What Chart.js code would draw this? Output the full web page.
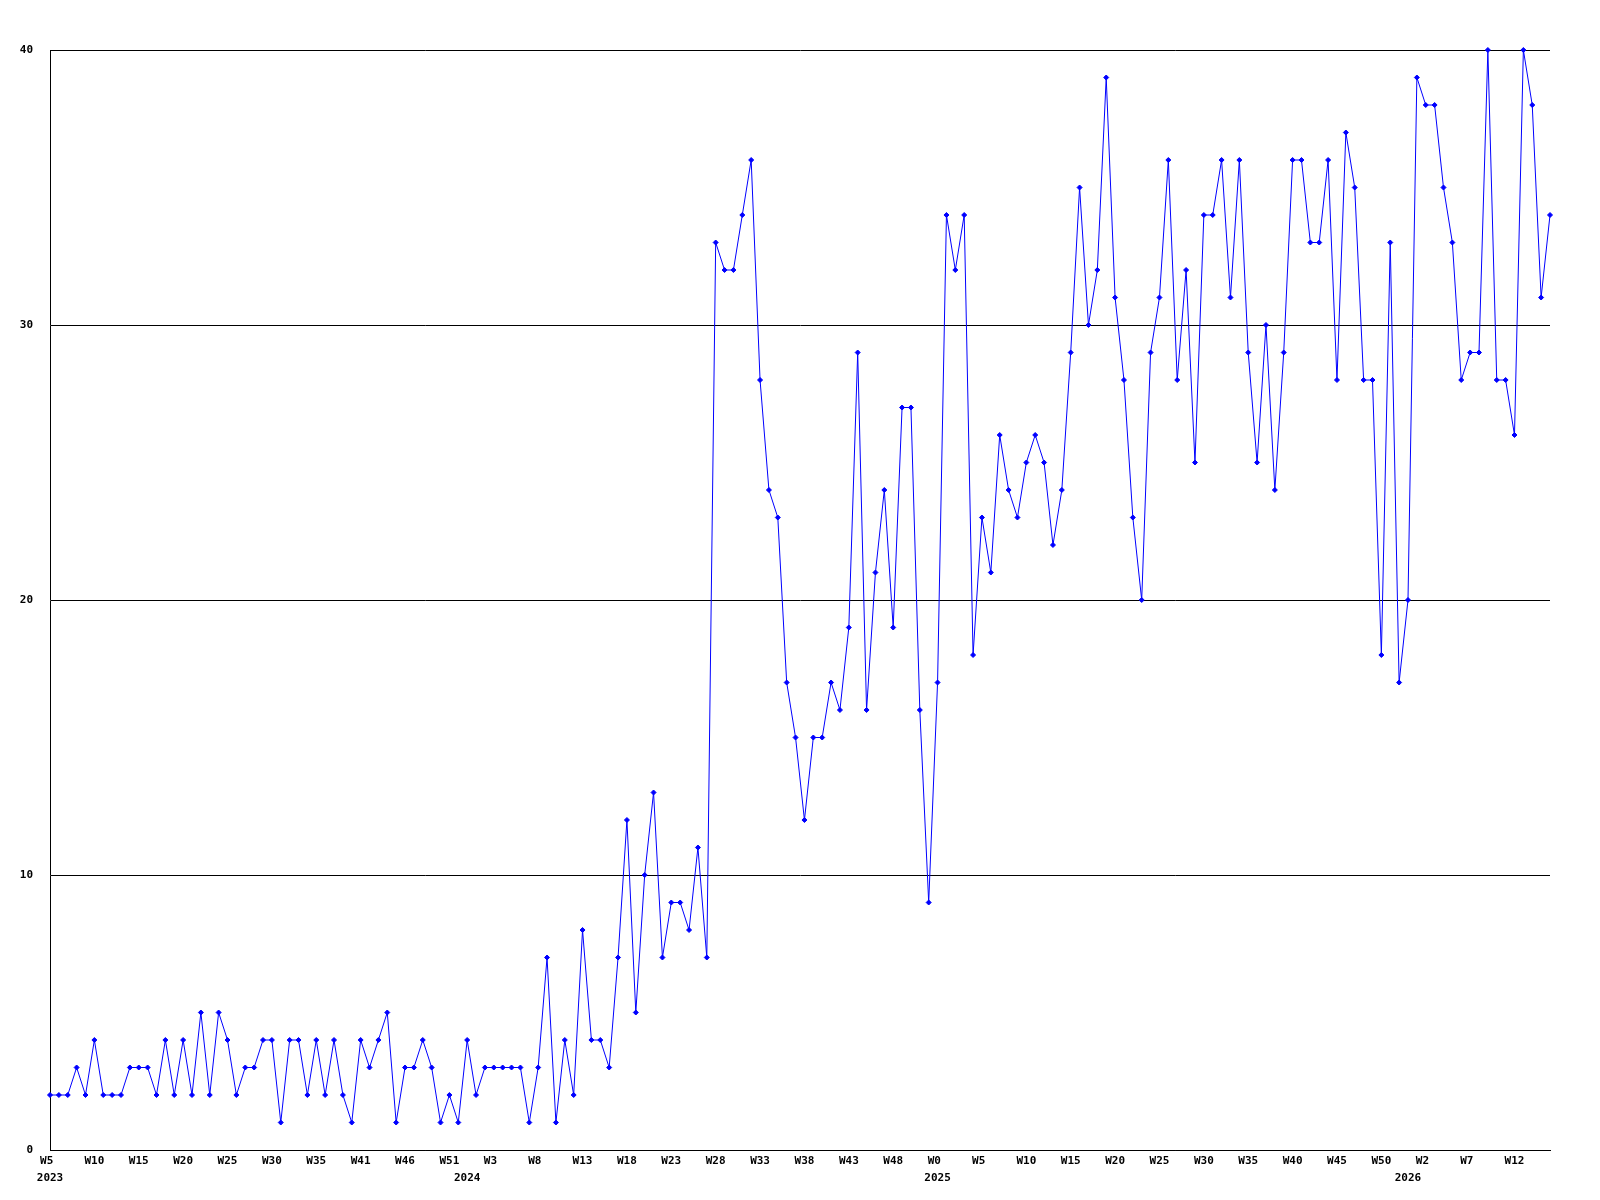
<!DOCTYPE html>
<html>
<head>
<meta charset="utf-8">
<script src="https://cdn.jsdelivr.net/npm/chart.js@4.4.1/dist/chart.umd.min.js"></script>
<style>
  html, body { margin: 0; padding: 0; background: #fff; }
  canvas { display: block; }
</style>
</head>
<body>
<canvas id="chart-semanas" width="1600" height="1200"></canvas>
<script>
// ==================== DATOS ====================
// un valor por semana, desde W5 2023
const valores = [
    2, 2, 2, 3, 2, 4, 2, 2, 2, 3,
    3, 3, 2, 4, 2, 4, 2, 5, 2, 5,
    4, 2, 3, 3, 4, 4, 1, 4, 4, 2,
    4, 2, 4, 2, 1, 4, 3, 4, 5, 1,
    3, 3, 4, 3, 1, 2, 1, 4, 2, 3,
    3, 3, 3, 3, 1, 3, 7, 1, 4, 2,
    8, 4, 4, 3, 7, 12, 5, 10, 13, 7,
    9, 9, 8, 11, 7, 33, 32, 32, 34, 36,
    28, 24, 23, 17, 15, 12, 15, 15, 17, 16,
    19, 29, 16, 21, 24, 19, 27, 27, 16, 9,
    17, 34, 32, 34, 18, 23, 21, 26, 24, 23,
    25, 26, 25, 22, 24, 29, 35, 30, 32, 39,
    31, 28, 23, 20, 29, 31, 36, 28, 32, 25,
    34, 34, 36, 31, 36, 29, 25, 30, 24, 29,
    36, 36, 33, 33, 36, 28, 37, 35, 28, 28,
    18, 33, 17, 20, 39, 38, 38, 35, 33, 28,
    29, 29, 40, 28, 28, 26, 40, 38, 31, 34
];

// etiqueta de semana cada 5 puntos
const etiquetasSemana = [
    'W5', 'W10', 'W15', 'W20', 'W25', 'W30', 'W35', 'W41', 'W46', 'W51',
    'W3', 'W8', 'W13', 'W18', 'W23', 'W28', 'W33', 'W38', 'W43', 'W48',
    'W0', 'W5', 'W10', 'W15', 'W20', 'W25', 'W30', 'W35', 'W40', 'W45',
    'W50', 'W2', 'W7', 'W12'
];

// índice del punto donde empieza cada año
const inicioAnio = [0, 47, 100, 153];
const anios = ['2023', '2024', '2025', '2026'];

const ticksY = [0, 10, 20, 30, 40];

const categorias = valores.map((v, i) => i);
const fuente = { family: 'DejaVu Sans Mono', size: 11, weight: 'bold' };

// ==================== GRÁFICO ====================
const ctx = document.getElementById('chart-semanas').getContext('2d');

new Chart(ctx, {
    type: 'line',
    data: {
        labels: categorias,
        datasets: [{
            data: valores,
            borderColor: '#0000ff',
            backgroundColor: '#0000ff',
            borderWidth: 1,
            tension: 0,
            pointStyle: 'rectRot',
            pointRadius: 2.5,
            pointBorderWidth: 1,
            clip: false
        }]
    },
    options: {
        responsive: false,
        animation: false,
        devicePixelRatio: 1,
        layout: { padding: { top: 50, right: 50, left: 0, bottom: 0 } },
        plugins: { legend: { display: false }, tooltip: { enabled: false } },
        scales: {
            x: {
                type: 'category',
                position: 'bottom',
                offset: false,
                grid: { display: false, drawTicks: false },
                border: { display: true, color: '#000', width: 1 },
                ticks: {
                    autoSkip: false,
                    maxRotation: 0,
                    minRotation: 0,
                    padding: 5,
                    color: '#000',
                    font: fuente,
                    // las etiquetas cortas se rellenan para que empiecen donde las largas
                    callback: (v, i) => (i % 5 === 0 ? etiquetasSemana[i / 5].padEnd(3) : null)
                },
                afterFit: (scale) => { scale.height = 18; }
            },
            x2: {
                type: 'category',
                position: 'bottom',
                offset: false,
                grid: { display: false, drawTicks: false },
                border: { display: false },
                ticks: {
                    autoSkip: false,
                    maxRotation: 0,
                    minRotation: 0,
                    padding: 4,
                    color: '#000',
                    font: fuente,
                    callback: (v, i) => {
                        const k = inicioAnio.indexOf(i);
                        return k >= 0 ? anios[k] : null;
                    }
                },
                afterFit: (scale) => { scale.height = 32; }
            },
            y: {
                min: 0,
                max: 40,
                grid: { color: '#000', lineWidth: 1, drawTicks: false },
                border: { display: true, color: '#000', width: 1 },
                ticks: { padding: 17, color: '#000', font: fuente },
                afterBuildTicks: (scale) => { scale.ticks = ticksY.map(v => ({ value: v })); },
                afterFit: (scale) => { scale.width = 50; }
            }
        }
    }
});
</script>
</body>
</html>
